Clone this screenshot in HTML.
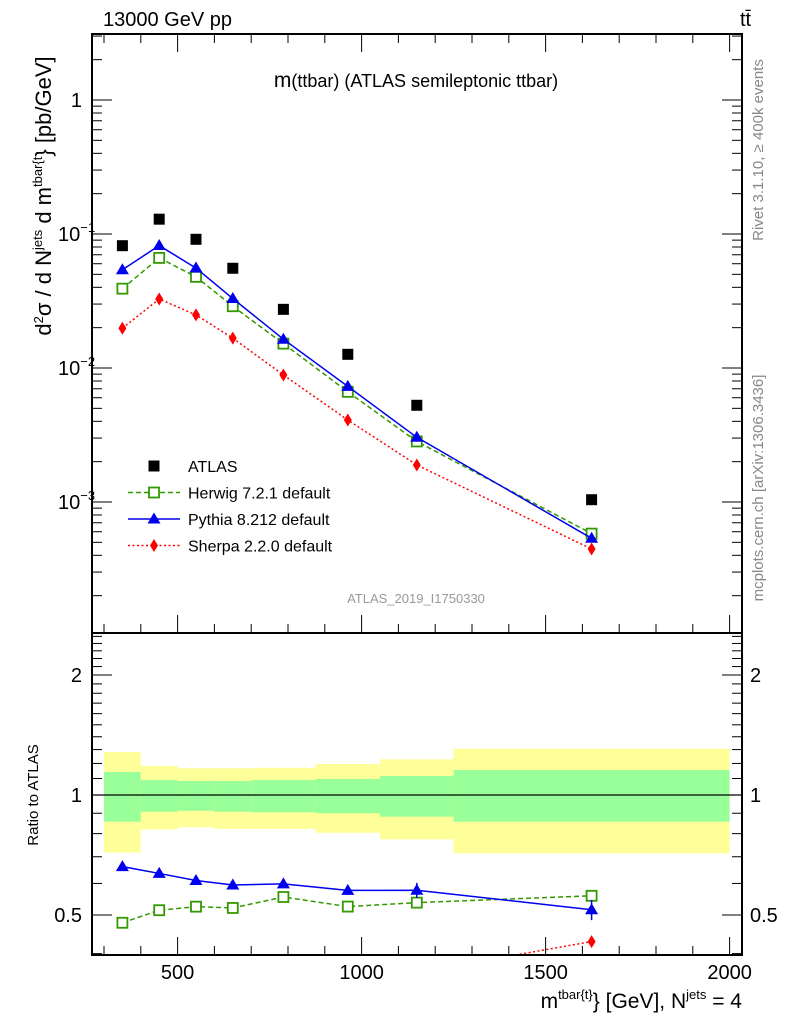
<!DOCTYPE html>
<html><head><meta charset="utf-8"><style>
body{margin:0;background:#fff}
svg{display:block;font-family:"Liberation Sans",sans-serif}
</style></head><body>
<svg id="c" width="786" height="1024" viewBox="0 0 786 1024">
<g id="bands"></g>
<g id="marks"></g>
<g id="axes"></g>
<text x="103" y="26" font-size="20">13000 GeV pp</text>
<text x="740" y="26" font-size="20">tt̄</text>
<text x="416" y="87" font-size="18" text-anchor="middle"><tspan font-size="21">m</tspan>(ttbar) (ATLAS semileptonic ttbar)</text>
<text x="416" y="603" font-size="13" fill="#999" text-anchor="middle">ATLAS_2019_I1750330</text>
<text transform="translate(763,150) rotate(-90)" font-size="15" fill="#888" text-anchor="middle">Rivet 3.1.10, ≥ 400k events</text>
<text transform="translate(763,488) rotate(-90)" font-size="15" fill="#888" text-anchor="middle">mcplots.cern.ch [arXiv:1306.3436]</text>
<text transform="translate(51,196) rotate(-90)" font-size="22" text-anchor="middle">d<tspan font-size="13" dy="-8">2</tspan><tspan dy="8">σ  /  d N</tspan><tspan font-size="13" dy="-9">jets</tspan><tspan dy="9"> d m</tspan><tspan font-size="13" dy="-9">tbar{t</tspan><tspan dy="9">} [pb/GeV]</tspan></text>
<text transform="translate(38,795) rotate(-90)" font-size="15" text-anchor="middle">Ratio to ATLAS</text>
<text x="742" y="1008" font-size="21" text-anchor="end">m<tspan font-size="13" dy="-9">tbar{t}</tspan><tspan dy="9">} [GeV], N</tspan><tspan font-size="13" dy="-9">jets</tspan><tspan dy="9"> = 4</tspan></text>
<g id="legend"></g>
</svg>
<script>
const binEdges=[300,400,500,600,700,875,1050,1250,2000];
const atlas=[0.0818,0.129,0.0913,0.0555,0.0274,0.01265,0.00527,0.00104];
const herwig=[0.0391,0.0663,0.0479,0.0289,0.0152,0.00664,0.00283,0.000581];
const pythia=[0.0541,0.0820,0.0557,0.0330,0.0164,0.00729,0.00304,0.000536];
const sherpa=[0.0198,0.0327,0.0249,0.0167,0.00887,0.00409,0.00189,0.000446];
const bandTotalUp=[1.282,1.182,1.167,1.167,1.17,1.196,1.229,1.306];
const bandTotalDn=[0.717,0.820,0.830,0.822,0.822,0.804,0.774,0.714];
const bandStatUp=[1.142,1.090,1.084,1.084,1.09,1.097,1.116,1.155];
const bandStatDn=[0.857,0.908,0.913,0.908,0.905,0.900,0.882,0.857];
const pythiaRatioErr=[0.005,0.005,0.006,0.007,0.008,0.015,0.025,0.03];
const mainTicks=[1,0.1,0.01,0.001];
const mainTickLabels=[["1",""],["10","−1"],["10","−2"],["10","−3"]];
const ratioTicks=[0.5,1,2];
const xTicks=[500,1000,1500,2000];

const L=92,R=742,T=34,M=633,B=955;
const NS='http://www.w3.org/2000/svg';
const X=v=>177.6+(v-500)*0.368;
const Y=v=>100-134*Math.log10(v);
const YR=v=>795-398.6*Math.log10(v);
function mk(p,tag,at){const e=document.createElementNS(NS,tag);for(const k in at)e.setAttribute(k,at[k]);document.getElementById(p).appendChild(e);return e;}
const centers=binEdges.slice(0,-1).map((e,i)=>(e+binEdges[i+1])/2);

for(let i=0;i<atlas.length;i++){
 const x0=X(binEdges[i]),x1=X(binEdges[i+1]);
 let r=mk('bands','rect',{x:x0,y:YR(bandTotalUp[i]),width:x1-x0,height:YR(bandTotalDn[i])-YR(bandTotalUp[i]),fill:'#ffff99'});
 
 
 r=mk('bands','rect',{x:x0,y:YR(bandStatUp[i]),width:x1-x0,height:YR(bandStatDn[i])-YR(bandStatUp[i]),fill:'#99ff99'});
 
 
}
let ln=mk('bands','line',{x1:L,x2:R,y1:YR(1),y2:YR(1),stroke:'#000','stroke-width':1.2});



const defs=mk('marks','defs',{});
const cp=document.createElementNS(NS,'clipPath');cp.setAttribute('id','rc');defs.appendChild(cp);
const cr=document.createElementNS(NS,'rect');cr.setAttribute('x',L);cr.setAttribute('y',M);cr.setAttribute('width',R-L);cr.setAttribute('height',B-M);cp.appendChild(cr);

function marker(g,type,x,y,col,name){
 let e;
 if(type==='sq') e=mk(g,'rect',{x:x-5.5,y:y-5.5,width:11,height:11,fill:'#000'});
 else if(type==='osq') e=mk(g,'rect',{x:x-5,y:y-5,width:10,height:10,fill:'#fff',stroke:col,'stroke-width':1.8});
 else if(type==='tri') e=mk(g,'polygon',{points:`${x},${y-6.5} ${x-6.5},${y+4.5} ${x+6.5},${y+4.5}`,fill:col});
 else e=mk(g,'polygon',{points:`${x},${y-6.5} ${x-4},${y} ${x},${y+6.5} ${x+4},${y}`,fill:col});
 
 
}
const series=[
 {d:herwig,col:'#339900',dash:'5,3',m:'osq',n:'herwig'},
 {d:pythia,col:'#0000ee',dash:'',m:'tri',n:'pythia'},
 {d:sherpa,col:'#ff0000',dash:'2,2.5',m:'dia',n:'sherpa'}];
series.forEach(s=>{
 const pts=s.d.map((v,i)=>X(centers[i])+','+Y(v)).join(' ');
 let p=mk('marks','polyline',{points:pts,fill:'none',stroke:s.col,'stroke-width':1.5,'stroke-dasharray':s.dash});
 
 
 const rp=s.d.map((v,i)=>X(centers[i])+','+YR(v/atlas[i])).join(' ');
 p=mk('marks','polyline',{points:rp,fill:'none',stroke:s.col,'stroke-width':1.5,'stroke-dasharray':s.dash,'clip-path':'url(#rc)'});
 
 
 s.d.forEach((v,i)=>{
  marker('marks',s.m,X(centers[i]),Y(v),s.col,s.n+'-point');
  const r=v/atlas[i];
  if(YR(r)<B-3){
   if(s.n==='pythia'){
    const e=pythiaRatioErr[i];
    const l=mk('marks','line',{x1:X(centers[i]),x2:X(centers[i]),y1:YR(r+e),y2:YR(r-e),stroke:s.col,'stroke-width':1.5});
    
    
   }
   marker('marks',s.m,X(centers[i]),YR(r),s.col,s.n+'-ratio-point');
  }
 });
});
atlas.forEach((v,i)=>marker('marks','sq',X(centers[i]),Y(v),'#000','atlas-point'));

let fr=mk('axes','rect',{x:L,y:T,width:R-L,height:M-T,fill:'none',stroke:'#000','stroke-width':2});


fr=mk('axes','rect',{x:L,y:M,width:R-L,height:B-M,fill:'none',stroke:'#000','stroke-width':2});


function tk(x1,y1,x2,y2){const l=mk('axes','line',{x1,y1,x2,y2,stroke:'#000','stroke-width':1});}
for(let v=300;v<=2000;v+=100){
 const x=X(v),big=v%500===0,h=big?18:9;
 tk(x,B,x,B-h);tk(x,M,x,M-h);tk(x,T,x,T+h);
}
xTicks.forEach(v=>{const t=mk('axes','text',{x:X(v),y:979,'font-size':20,'text-anchor':'middle'});t.textContent=v;});
for(let e=-4;e<=0;e++)for(let k=1;k<10;k++){
 const v=k*Math.pow(10,e),y=Y(v);if(y<T||y>M)continue;
 const h=k===1?20:10;tk(L,y,L+h,y);tk(R,y,R-h,y);
}
mainTicks.forEach((v,i)=>{
 const t=mk('axes','text',{x:82,y:Y(v)+7,'font-size':20,'text-anchor':'end'});
 
 
 const lab=mainTickLabels[i];
 if(lab[1]){t.setAttribute('x',58);t.setAttribute('text-anchor','start');t.innerHTML=lab[0]+'<tspan font-size="13" dy="-9">'+lab[1]+'</tspan>';}
 else t.textContent=lab[0];
});
for(let r=0.4;r<=2.55;r+=0.1){
 const rr=Math.round(r*10)/10,y=YR(rr);if(y<M||y>B)continue;
 const big=(rr===0.5||rr===1||rr===2),h=big?20:10;tk(L,y,L+h,y);tk(R,y,R-h,y);
}
ratioTicks.forEach(v=>{
 [[82,'end'],[750,'start']].forEach(([x,a])=>{const t=mk('axes','text',{x,y:YR(v)+7,'font-size':20,'text-anchor':a});t.textContent=v;});
});

const leg=[['ATLAS','sq','#000',''],['Herwig 7.2.1 default','osq','#339900','5,3'],['Pythia 8.212 default','tri','#0000ee',''],['Sherpa 2.2.0 default','dia','#ff0000','2,2.5']];
leg.forEach((l,i)=>{
 const y=466+i*26.5;
 if(i>0){const a=mk('legend','line',{x1:128,x2:180,y1:y,y2:y,stroke:l[2],'stroke-width':1.5,'stroke-dasharray':l[3]});}
 marker('legend',l[1],154,y,l[2],'legend-marker');
 const t=mk('legend','text',{x:188,y:y+6,'font-size':16});t.textContent=l[0];
 
 
});
</script>
</body></html>
